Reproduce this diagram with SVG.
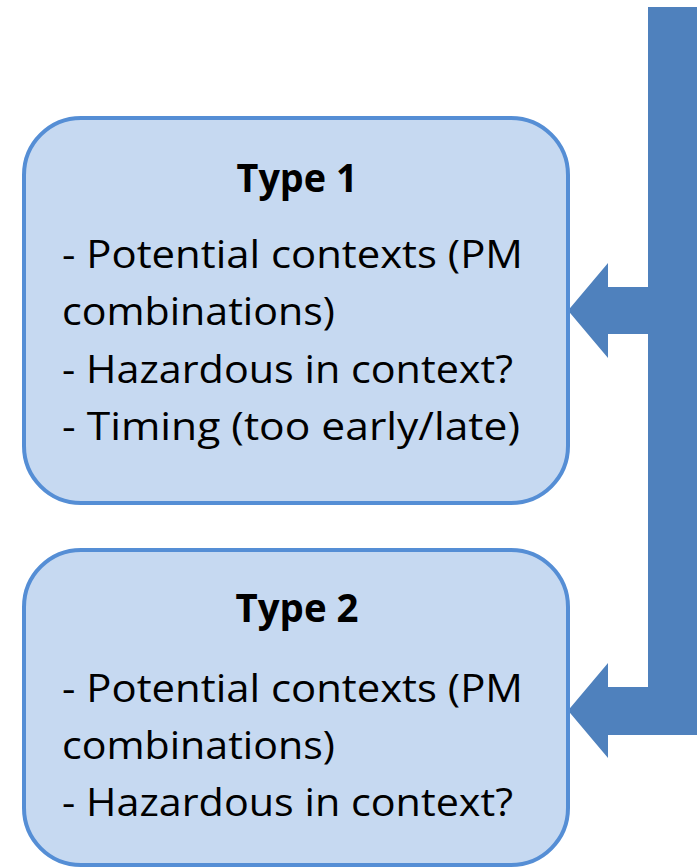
<svg xmlns="http://www.w3.org/2000/svg" width="700" height="868" viewBox="0 0 700 868">
<style>
.box{fill:#C6D9F1;stroke:#558ED5;stroke-width:4}
.arrow{fill:#4F81BD;stroke:none}
text{font-family:"Open Sans","Noto Sans",sans-serif;fill:#000}
.title{font-weight:bold;font-size:39px;text-anchor:middle}
.item{font-size:39px}
</style>
<rect width="700" height="868" fill="#FFFFFF"/>
<g id="connectors">
<path class="arrow" d="M648,7 H697 V735 H608 V758 L568,710.5 L608,663 V687 H648 Z"/>
<path class="arrow" d="M648,287 V334 H608 V358 L568,310.5 L608,263 V287 Z"/>
</g>
<g id="type1">
<rect class="box" x="24" y="118" width="544" height="385" rx="57" ry="57"/>
<text class="title" x="297" y="192" textLength="121" lengthAdjust="spacingAndGlyphs">Type 1</text>
<text class="item" x="62" y="268" textLength="461" lengthAdjust="spacingAndGlyphs">- Potential contexts (PM</text>
<text class="item" x="62" y="325" textLength="273" lengthAdjust="spacingAndGlyphs">combinations)</text>
<text class="item" x="62" y="383" textLength="451" lengthAdjust="spacingAndGlyphs">- Hazardous in context?</text>
<text class="item" x="62" y="440" textLength="458" lengthAdjust="spacingAndGlyphs">- Timing (too early/late)</text>
</g>
<g id="type2">
<rect class="box" x="24" y="550" width="544" height="315" rx="57" ry="57"/>
<text class="title" x="297" y="622" textLength="123" lengthAdjust="spacingAndGlyphs">Type 2</text>
<text class="item" x="62" y="702" textLength="461" lengthAdjust="spacingAndGlyphs">- Potential contexts (PM</text>
<text class="item" x="62" y="759" textLength="273" lengthAdjust="spacingAndGlyphs">combinations)</text>
<text class="item" x="62" y="816" textLength="451" lengthAdjust="spacingAndGlyphs">- Hazardous in context?</text>
</g>
</svg>
